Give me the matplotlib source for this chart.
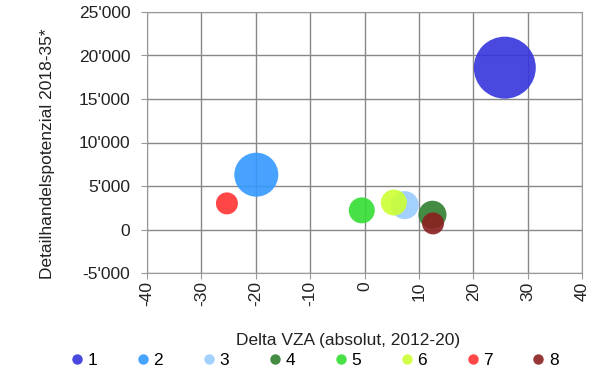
import matplotlib
matplotlib.use("Agg")
import matplotlib.pyplot as plt
from matplotlib.ticker import FuncFormatter
from matplotlib.lines import Line2D

plt.rcParams['font.family'] = ['Liberation Sans', 'DejaVu Sans']
plt.rcParams['axes.unicode_minus'] = False

labels = ['1', '2', '3', '4', '5', '6', '7', '8']
delta_vza = [25.8, -19.9, 7.4, 12.5, -0.5, 5.4, -25.3, 12.6]
potenzial = [18600, 6300, 2800, 1700, 2200, 3100, 3000, 700]
bubble_size = [62, 44, 28, 28, 26, 26, 22, 22]
colors = ['#3535dd', '#3399ff', '#99ccff', '#2f7f2f', '#33dd33',
          '#ccff33', '#ff3333', '#8b2020']

FS = 12.5

fig = plt.figure(figsize=(6.07, 3.74), dpi=100)
ax = fig.add_axes([147/607, 1 - 273/374, 435/607, 261/374])

for x, y, s, c in zip(delta_vza, potenzial, bubble_size, colors):
    d_pt = s * 0.72
    ax.scatter([x], [y], s=d_pt**2, color=c, alpha=0.9, edgecolors='none', zorder=3)

ax.set_xlim(-40, 40)
ax.set_ylim(-5000, 25000)
ax.set_xticks(range(-40, 41, 10))
ax.set_yticks(range(-5000, 25001, 5000))
ax.yaxis.set_major_formatter(FuncFormatter(lambda v, p: f"{int(v):,}".replace(",", "'")))
ax.grid(True, color='#888888', linewidth=1.0, zorder=0)
for sp in ax.spines.values():
    sp.set_color('#999999')
ax.tick_params(axis='both', colors='#999999', labelcolor='#222222', labelsize=FS, length=4)
ax.tick_params(axis='x', labelrotation=90, pad=2)
ax.tick_params(axis='y', pad=8)

ax.set_xlabel("Delta VZA (absolut, 2012-20)", fontsize=FS, color='#222222')
ax.xaxis.set_label_coords(0.462, -0.257)
ax.xaxis.label.set_va('center')
ax.set_ylabel("Detailhandelspotenzial 2018-35*", fontsize=FS, color='#222222')
ax.yaxis.set_label_coords(-0.2276, 0.456)
ax.yaxis.label.set_va('center')

handles = [Line2D([0], [0], marker='o', linestyle='none', markersize=7.5,
                  markerfacecolor=c, markeredgecolor='none', alpha=0.9) for c in colors]
fig.legend(handles, labels, loc='center', bbox_to_anchor=(0.5185, 0.0374), ncol=8,
           frameon=False, fontsize=FS, handletextpad=0.25, columnspacing=2.29,
           handlelength=0.7, borderpad=0)

fig.savefig("out.png", dpi=100)
